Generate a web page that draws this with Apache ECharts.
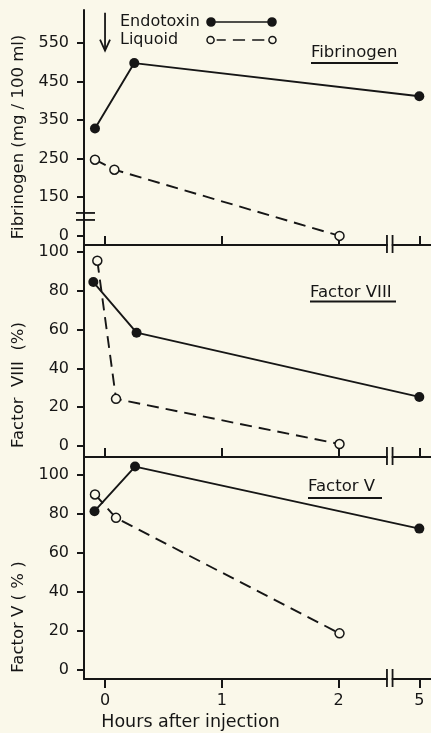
<!DOCTYPE html>
<html><head><meta charset="utf-8">
<script src="https://cdn.jsdelivr.net/npm/echarts@6/dist/echarts.min.js"></script>
<style>html,body{margin:0;padding:0;background:#faf8ea}#c{width:431px;height:733px}</style>
</head><body><div id="c"></div>
<script>
// ---- data (hours after injection, values) ----
const xTickHours = [0, 1, 2, 5];
const xTickLabels = ['0', '1', '2', '5'];
const fibTicks = [0, 150, 250, 350, 450, 550];
const pctTicks = [0, 20, 40, 60, 80, 100];

const fibEndoHours = [-0.086, 0.25, 5];
const fibEndo = [328, 498, 412];
const fibLiqHours = [-0.086, 0.08, 2.03];
const fibLiq = [247, 221, 0];

const f8EndoHours = [-0.1, 0.27, 5];
const f8Endo = [84.5, 58.4, 25.3];
const f8LiqHours = [-0.066, 0.094, 2.03];
const f8Liq = [95.5, 24.3, 1];

const f5EndoHours = [-0.09, 0.257, 5];
const f5Endo = [81.4, 104.3, 72.5];
const f5LiqHours = [-0.086, 0.094, 2.03];
const f5Liq = [90, 78, 18.8];

// ---- broken-axis mappings ----
const xPos = h => h <= 2 ? h : 2 + (h - 2) * 0.23;      // 2..5 h compressed
const fibPos = v => v >= 150 ? v : 49 + v * (101 / 150); // 0..150 compressed
const idPos = v => v;

const BG = '#faf8ea', INK = '#161616', FONT = 'DejaVu Sans';
const xTickPos = xTickHours.map(xPos);
const yRanges = [[25.3, 636], [-5.67, 103.6], [-4.6, 109.2]];

function makeX(i) {
  return {
    type: 'value', gridIndex: i, min: -0.18, max: 2.79,
    axisLine: { show: true, onZero: false, lineStyle: { color: INK, width: 2 } },
    axisTick: { show: true, inside: i < 2, length: 9, customValues: xTickPos, lineStyle: { color: INK, width: 2 } },
    axisLabel: {
      show: i === 2, customValues: xTickPos, margin: 14, fontSize: 16, color: INK, fontFamily: FONT,
      formatter: v => { const k = xTickPos.findIndex(p => Math.abs(p - v) < 1e-6); return k >= 0 ? xTickLabels[k] : ''; }
    },
    splitLine: { show: false },
    name: i === 2 ? 'Hours after injection' : '',
    nameLocation: 'middle', nameGap: 34,
    nameTextStyle: { fontSize: 17.5, color: INK, fontFamily: FONT, padding: [0, 134, 0, 0] }
  };
}
function makeY(i, name, ticks, mapY, shiftPad) {
  const pos = ticks.map(mapY);
  return {
    type: 'value', gridIndex: i, min: yRanges[i][0], max: yRanges[i][1],
    axisLine: { show: true, onZero: false, lineStyle: { color: INK, width: 2 } },
    axisTick: { show: true, length: 7, customValues: pos, lineStyle: { color: INK, width: 2 } },
    axisLabel: {
      customValues: pos, margin: 15, fontSize: 16, color: INK, fontFamily: FONT,
      formatter: v => { const k = pos.findIndex(p => Math.abs(p - v) < 1e-6); return k >= 0 ? String(ticks[k]) : ''; }
    },
    splitLine: { show: false },
    name: name, nameLocation: 'middle', nameGap: 52,
    nameTextStyle: { fontSize: 16.5, color: INK, fontFamily: FONT, padding: [0, shiftPad, 0, 0] }
  };
}
function ser(name, gi, hours, vals, mapY, endo) {
  return {
    type: 'line', name: name, xAxisIndex: gi, yAxisIndex: gi,
    data: hours.map((h, k) => [xPos(h), mapY(vals[k])]),
    symbol: 'circle', symbolSize: endo ? 10 : 9, showSymbol: true, silent: true,
    lineStyle: { color: INK, width: 1.9, type: endo ? 'solid' : [12, 7] },
    itemStyle: endo ? { color: INK } : { color: BG, borderColor: INK, borderWidth: 1.5 },
    z: endo ? 3 : 2
  };
}

const ENDO_ICON = 'path://M0,4a4,4 0 1,0 8,0a4,4 0 1,0 -8,0Z M61,4a4,4 0 1,0 8,0a4,4 0 1,0 -8,0Z M8,4L61,4';
const LIQ_ICON = 'path://M0.5,4a3.5,3.5 0 1,0 7,0a3.5,3.5 0 1,0 -7,0Z M61.5,4a3.5,3.5 0 1,0 7,0a3.5,3.5 0 1,0 -7,0Z M10,4L19,4 M26,4L38,4 M45,4L57,4';

const chart = echarts.init(document.getElementById('c'), null, { renderer: 'canvas' });
const option = {
  backgroundColor: BG,
  animation: false,
  textStyle: { fontFamily: FONT },
  grid: [
    { left: 84, right: 0, top: 10, height: 235 },
    { left: 84, right: 0, top: 245, height: 212 },
    { left: 84, right: 0, top: 457, height: 222 }
  ],
  legend: {
    orient: 'vertical', left: 115, top: 8, align: 'right', itemGap: 0,
    itemWidth: 69, itemHeight: 8, selectedMode: false,
    formatter: '{n|{name}}',
    textStyle: {
      fontFamily: FONT, fontSize: 16, color: INK, lineHeight: 18,
      rich: { n: { width: 82, align: 'left', fontFamily: FONT, fontSize: 16, color: INK, lineHeight: 18 } }
    },
    data: [
      { name: 'Endotoxin', icon: ENDO_ICON, itemStyle: { color: INK, borderColor: INK, borderWidth: 1.6 } },
      { name: 'Liquoid', icon: LIQ_ICON, itemStyle: { color: BG, borderColor: INK, borderWidth: 1.5 } }
    ]
  },
  xAxis: [makeX(0), makeX(1), makeX(2)],
  yAxis: [
    makeY(0, 'Fibrinogen (mg / 100 ml)', fibTicks, fibPos, 19),
    makeY(1, 'Factor  VIII  (%)', pctTicks, idPos, 68),
    makeY(2, 'Factor V ( % )', pctTicks, idPos, 98)
  ],
  series: [
    ser('Endotoxin', 0, fibEndoHours, fibEndo, fibPos, true),
    ser('Liquoid', 0, fibLiqHours, fibLiq, fibPos, false),
    ser('Endotoxin', 1, f8EndoHours, f8Endo, idPos, true),
    ser('Liquoid', 1, f8LiqHours, f8Liq, idPos, false),
    ser('Endotoxin', 2, f5EndoHours, f5Endo, idPos, true),
    ser('Liquoid', 2, f5LiqHours, f5Liq, idPos, false)
  ]
};
chart.setOption(option);

// ---- decorations: axis breaks, injection arrow, panel titles ----
const P = (gi, x, y) => chart.convertToPixel({ gridIndex: gi }, [x, y]);
const ls = { stroke: INK, lineWidth: 1.8 };
const g = [];
const xBreak = xPos(3.9);
for (let i = 0; i < 3; i++) {
  const [bx, by] = P(i, xBreak, yRanges[i][0]);
  g.push({ type: 'rect', z: 100, shape: { x: bx - 2, y: by - 1.5, width: 4, height: 3 }, style: { fill: BG } });
  g.push({ type: 'line', z: 101, shape: { x1: bx - 2.8, y1: by - 10, x2: bx - 2.8, y2: by + 8 }, style: ls });
  g.push({ type: 'line', z: 101, shape: { x1: bx + 2.8, y1: by - 10, x2: bx + 2.8, y2: by + 8 }, style: ls });
}
{
  const [ax, ay] = P(0, -0.18, 99.5);
  g.push({ type: 'line', z: 101, shape: { x1: ax - 8, y1: ay - 3.5, x2: ax + 11, y2: ay - 3.5 }, style: ls });
  g.push({ type: 'line', z: 101, shape: { x1: ax - 8, y1: ay + 3.5, x2: ax + 11, y2: ay + 3.5 }, style: ls });
}
{
  const [tx, ty] = P(0, 0, 628.6);
  const [, by] = P(0, 0, 530.3);
  g.push({ type: 'line', z: 101, shape: { x1: tx, y1: ty, x2: tx, y2: by }, style: ls });
  g.push({ type: 'polyline', z: 101, shape: { points: [[tx - 5, by - 11], [tx, by], [tx + 5, by - 11]] }, style: { stroke: INK, lineWidth: 1.8, fill: null } });
}
const titles = [
  { t: 'Fibrinogen', x: 311, y: 52.5, u: 63, w: 87 },
  { t: 'Factor VIII', x: 310, y: 293, u: 301.5, w: 86 },
  { t: 'Factor V', x: 308, y: 486.5, u: 498, w: 74 }
];
titles.forEach(o => {
  g.push({ type: 'text', z: 101, style: { text: o.t, x: o.x, y: o.y, fill: INK, font: '16.5px "DejaVu Sans"', textVerticalAlign: 'middle', verticalAlign: 'middle' } });
  g.push({ type: 'line', z: 101, shape: { x1: o.x, y1: o.u, x2: o.x + o.w, y2: o.u }, style: { stroke: INK, lineWidth: 2 } });
});
chart.setOption({ graphic: g });
</script>
</body></html>
